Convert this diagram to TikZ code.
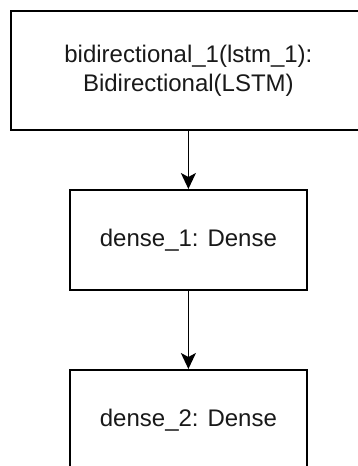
\documentclass[tikz,border=0pt]{standalone}
\usepackage{fontspec}
\setmainfont{Liberation Sans}
\usetikzlibrary{arrows.meta}
\begin{document}
\begin{tikzpicture}[x=1pt,y=-1pt,
  layerbox/.style={draw=black, line width=1.8pt, fill=white, inner sep=0pt, anchor=north west,
    font=\fontsize{24}{29}\selectfont, align=center, text=black!90},
  flow/.style={draw=black, line width=1.8pt, -{Stealth[length=16pt,width=15pt,inset=4pt]}}]
\useasboundingbox (0,0) rectangle (357,466);
\fill[white] (0,0) rectangle (357,466);
\node[layerbox, minimum width=355pt, minimum height=119pt] (b1) at (10,10)
  {bidirectional\_1(lstm\_1):\\Bidirectional(LSTM)};
\node[layerbox, minimum width=237pt, minimum height=100pt] (d1) at (69,189) {dense\_1: Dense};
\node[layerbox, minimum width=237pt, minimum height=100pt] (d2) at (69,369) {dense\_2: Dense};
\draw[flow] (b1.south -| d1.north) -- (d1.north);
\draw[flow] (d1.south) -- (d2.north);
\end{tikzpicture}
\end{document}
